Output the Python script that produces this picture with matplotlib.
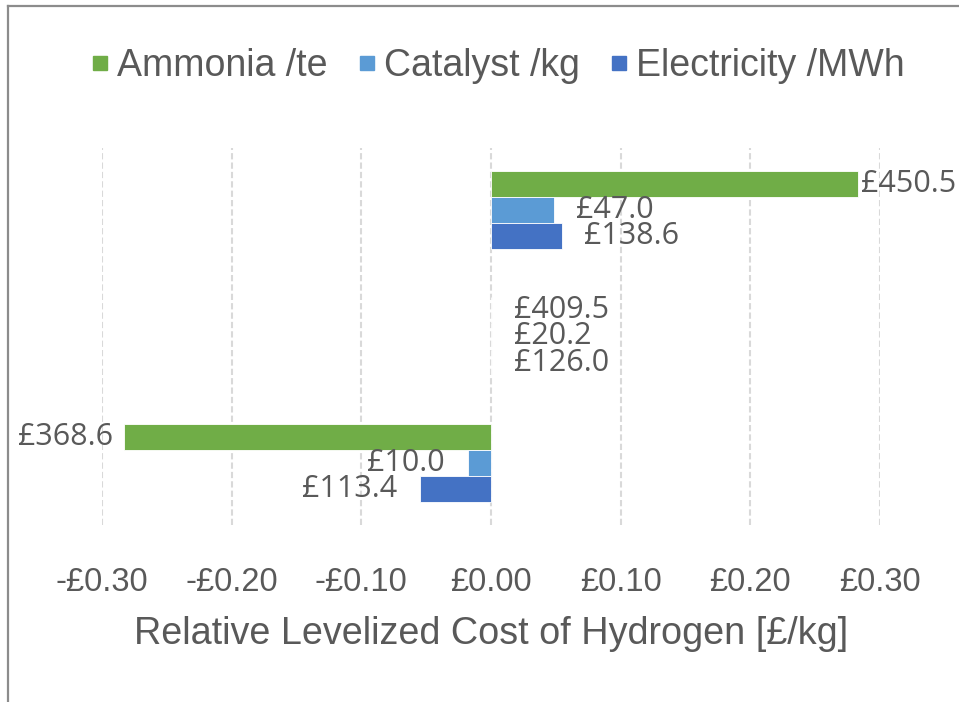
import numpy as np
import matplotlib.pyplot as plt
from matplotlib.lines import Line2D

# sensitivity cases, top to bottom
cases = ['+10%', 'Base', '-10%']
series = ['Ammonia /te', 'Catalyst /kg', 'Electricity /MWh']
colors = ['#70AD47', '#5B9BD5', '#4472C4']

# change in levelized cost of hydrogen [GBP/kg]
ammonia_delta = [0.283, 0.0, -0.283]
catalyst_delta = [0.0486, 0.0, -0.0177]
electricity_delta = [0.0548, 0.0, -0.0548]

# input prices shown as data labels
ammonia_price = [450.5, 409.5, 368.6]
catalyst_price = [47.0, 20.2, 10.0]
electricity_price = [138.6, 126.0, 113.4]

deltas = [ammonia_delta, catalyst_delta, electricity_delta]
prices = [ammonia_price, catalyst_price, electricity_price]
xticks = [-0.3, -0.2, -0.1, 0.0, 0.1, 0.2, 0.3]

text_col = '#595959'
px = 0.72  # pixels -> points at 100 dpi

fig = plt.figure(figsize=(9.59, 7.02), dpi=100)
ax = fig.add_axes([102 / 959, 177 / 702, 778 / 959, 377 / 702])

bar_h = 0.205
y = np.arange(len(cases))
for i, (name, col) in enumerate(zip(series, colors)):
    ypos = y + (i - 1) * bar_h
    ax.barh(ypos, deltas[i], height=bar_h, color=col, edgecolor='white',
            linewidth=0.6, label=name, zorder=3)
    for yy, d, p in zip(ypos, deltas[i], prices[i]):
        if d > 0:
            off, ha = (3 if i == 0 else 22), 'left'
        elif d < 0:
            off, ha = -(11 if i == 0 else 23), 'right'
        else:
            off, ha = 23, 'left'
        ax.annotate(f'£{p:.1f}', (d, yy), xytext=(off * px, 0),
                    textcoords='offset points', ha=ha, va='center',
                    fontsize=22, color=text_col, family='Open Sans',
                    annotation_clip=False, zorder=4)

ax.set_xlim(-0.3, 0.3)
ax.set_ylim(2.485, -0.485)
ax.set_xticks(xticks)
ax.set_xticklabels([('-' if v < 0 else '') + f'£{abs(v):.2f}' for v in xticks],
                   family='Liberation Sans', fontsize=23.5, color=text_col)
ax.set_yticks([])
ax.tick_params(axis='x', length=0, pad=30)
ax.grid(axis='x', color='#D9D9D9', linestyle=(0, (3, 1.5)), linewidth=1.5, zorder=0)
for s in ax.spines.values():
    s.set_visible(False)

ax.set_xlabel('Relative Levelized Cost of Hydrogen [£/kg]', family='Liberation Sans',
              fontsize=27.2, color=text_col, labelpad=13)

handles = [Line2D([], [], marker='s', linestyle='', markersize=9.5,
                  markerfacecolor=c, markeredgecolor=c) for c in colors]
fig.legend(handles, series, loc='center', bbox_to_anchor=(0.5 + 17 / 959, 1 - 66 / 702),
           ncol=3, frameon=False, handletextpad=0.15, columnspacing=0.75,
           prop={'family': 'Liberation Sans', 'size': 27}, labelcolor=text_col,
           handlelength=0.6)

# chart frame (cropped on the right and bottom)
fig.add_artist(Line2D([7.5 / 959, 1.0], [1 - 6 / 702, 1 - 6 / 702],
                      color='#8C8C8C', linewidth=1.6, transform=fig.transFigure))
fig.add_artist(Line2D([7.5 / 959, 7.5 / 959], [0.0, 1 - 6 / 702],
                      color='#8C8C8C', linewidth=1.6, transform=fig.transFigure))

fig.savefig('out.png', dpi=100)
